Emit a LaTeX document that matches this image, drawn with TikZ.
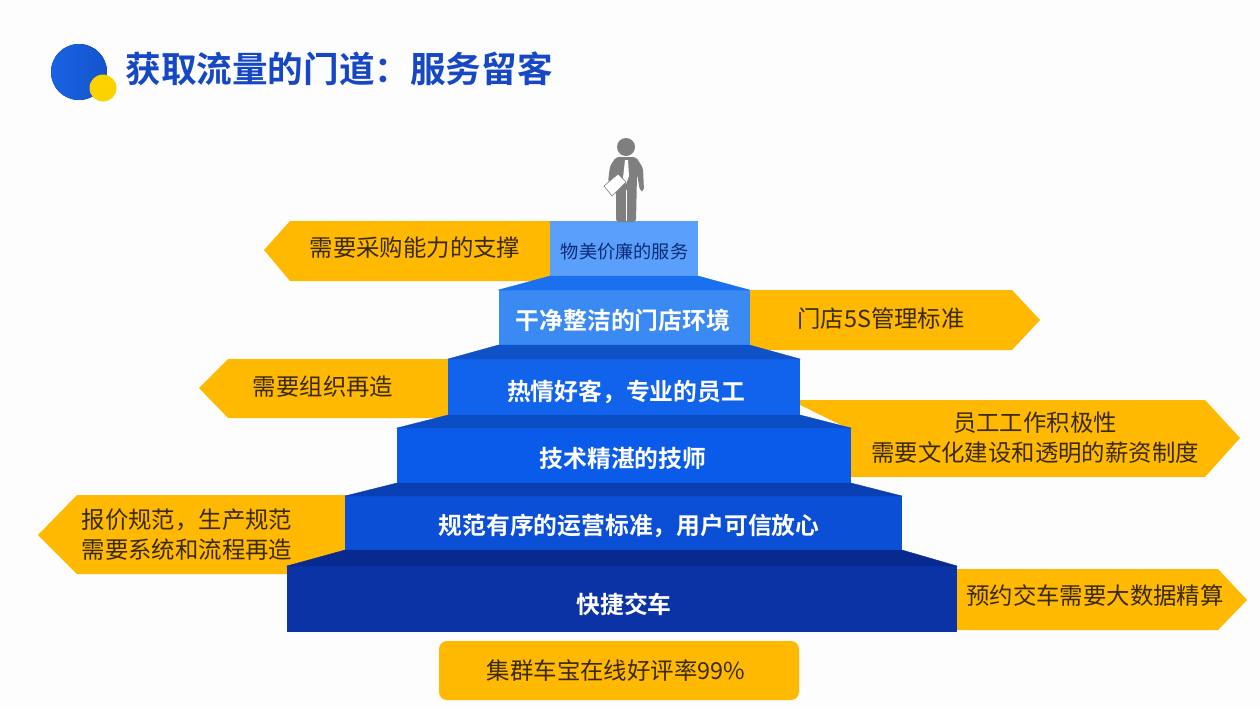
\documentclass[tikz,border=0pt]{standalone}
\usepackage{fontspec}
\setmainfont{Noto Sans CJK SC}
\newfontfamily\boldcjk{Noto Sans CJK SC Bold}
\usetikzlibrary{positioning}
\definecolor{tagorange}{HTML}{FFB900}
\definecolor{tagtext}{HTML}{3A2A10}
\definecolor{titleblue}{HTML}{1648C6}
\definecolor{figuregray}{HTML}{7F7F7F}
\definecolor{pageback}{HTML}{FDFDFE}
\definecolor{logoblue}{HTML}{1A62E4}
\definecolor{logodark}{HTML}{1454CC}
\definecolor{logoyellow}{HTML}{FBD400}
\definecolor{stepa}{HTML}{5A9FFA}
\definecolor{stepb}{HTML}{3B8AF4}
\definecolor{stepc}{HTML}{1163EC}
\definecolor{stepd}{HTML}{0A5BEA}
\definecolor{stepe}{HTML}{0B4FD6}
\definecolor{stepf}{HTML}{0B33A6}
\definecolor{risea}{HTML}{1B70F0}
\definecolor{riseb}{HTML}{0F52C8}
\definecolor{risec}{HTML}{0C4CC4}
\definecolor{rised}{HTML}{0A3FB4}
\definecolor{risee}{HTML}{082A90}
\tikzset{
  stepbox/.style={inner sep=0pt,outer sep=0pt,text=white,font=\boldcjk\fontsize{23.8}{24}\selectfont},
  tag/.style={fill=tagorange},
  tagtxt/.style={inner sep=0pt,align=center,text=tagtext,font=\fontsize{23.4}{30}\selectfont},
  rise/.style={fill=#1,draw=#1,line width=.4pt}
}
\begin{document}
\begin{tikzpicture}[x=1pt,y=-1pt]
  \fill[pageback] (0,0) rectangle (1260,710);
  \useasboundingbox (0,0) rectangle (1260,710);

  % heading
  \fill[left color=logoblue,right color=logodark] (79,72) circle (28);
  \fill[logoyellow] (103,88) circle (13.5);
  \node[inner sep=0pt,text=titleblue,font=\boldcjk\fontsize{35.6}{36}\selectfont] (title) at (339,69) {获取流量的门道：服务留客};

  % orange tags behind the steps
  \fill[tag] (560,221) -- (290,221) -- (264,250) -- (290,281) -- (560,281) -- cycle;
  \fill[tag] (740,290) -- (1012,290) -- (1040,320) -- (1012,350) -- (740,350) -- cycle;
  \fill[tag] (460,359) -- (228,359) -- (199,388) -- (228,418) -- (460,418) -- cycle;
  \fill[tag] (790,400) -- (1205,400) -- (1240,438) -- (1205,477) -- (851,477) -- (851,430) -- cycle;
  \fill[tag] (360,495) -- (77,495) -- (38,535) -- (77,574) -- (300,574) -- (360,550) -- cycle;
  \fill[tag] (950,569) -- (1218,569) -- (1247,600) -- (1218,630) -- (950,630) -- cycle;
  \fill[tag,rounded corners=8pt] (439,641) rectangle (799,700);

  % steps, from the base up
  \node[stepbox,fill=stepf,minimum width=670pt,minimum height=66pt] (delivery) at (622,599) {};
  \node[stepbox,fill=stepe,minimum width=557pt,minimum height=54pt,above=16pt of delivery,xshift=1.5pt] (standard) {};
  \node[stepbox,fill=stepd,minimum width=454pt,minimum height=55pt,above=13pt of standard,xshift=.5pt] (skilled) {};
  \node[stepbox,fill=stepc,minimum width=352pt,minimum height=56pt,above=13pt of skilled] (staff) {};
  \node[stepbox,fill=stepb,minimum width=251pt,minimum height=55pt,above=14pt of staff] (clean) {};
  \node[stepbox,fill=stepa,minimum width=148pt,minimum height=55pt,above=14pt of clean] (price) {};

  \path[rise=risea] (price.south west) -- (price.south east) -- (clean.north east) -- (clean.north west) -- cycle;
  \path[rise=riseb] (clean.south west) -- (clean.south east) -- (staff.north east) -- (staff.north west) -- cycle;
  \path[rise=risec] (staff.south west) -- (staff.south east) -- (skilled.north east) -- (skilled.north west) -- cycle;
  \path[rise=rised] (skilled.south west) -- (skilled.south east) -- (standard.north east) -- (standard.north west) -- cycle;
  \path[rise=risee] (standard.south west) -- (standard.south east) -- (delivery.north east) -- (delivery.north west) -- cycle;

  % step labels
  \node[inner sep=0pt,text=titleblue!60!black,font=\fontsize{18.2}{18}\selectfont] (pricetxt) at (624.5,252) {物美价廉的服务};
  \node[stepbox] (cleantxt) at (623,320) {干净整洁的门店环境};
  \node[stepbox] (stafftxt) at (626,392) {热情好客，专业的员工};
  \node[stepbox] (skilledtxt) at (623,458) {技术精湛的技师};
  \node[stepbox] (standardtxt) at (629,526) {规范有序的运营标准，用户可信放心};
  \node[stepbox] (deliverytxt) at (624,604) {快捷交车};

  % tag labels
  \node[tagtxt] (purchase) at (415,248) {需要采购能力的支撑};
  \node[tagtxt] (fives) at (881,319) {门店5S管理标准};
  \node[tagtxt] (reorg) at (323,387) {需要组织再造};
  \node[tagtxt] (culture) at (1035,438) {员工工作积极性\\需要文化建设和透明的薪资制度};
  \node[tagtxt] (process) at (187,535) {报价规范，生产规范\\需要系统和流程再造};
  \node[tagtxt] (bigdata) at (1095,596) {预约交车需要大数据精算};
  \node[tagtxt] (rating) at (616,671) {集群车宝在线好评率99\%};

  % figure on top
  \fill[figuregray] (626,147) circle (9);
  \fill[figuregray,rounded corners=3pt] (616,157) -- (636,157) -- (643,168) -- (644,191) -- (640,191) -- (637,174) -- (636,222) -- (616,222) -- (616,192) -- (608,182) -- (610,166) -- cycle;
  \draw[white,line width=1.2pt] (626.5,190) -- (626.5,221);
  \fill[white] (625,160) -- (628,160) -- (629,176) -- (626,184) -- (623,178) -- cycle;
  \draw[figuregray,fill=white,line width=.6pt] (604,186) -- (618,174) -- (626,182) -- (612,196) -- cycle;
\end{tikzpicture}
\end{document}
